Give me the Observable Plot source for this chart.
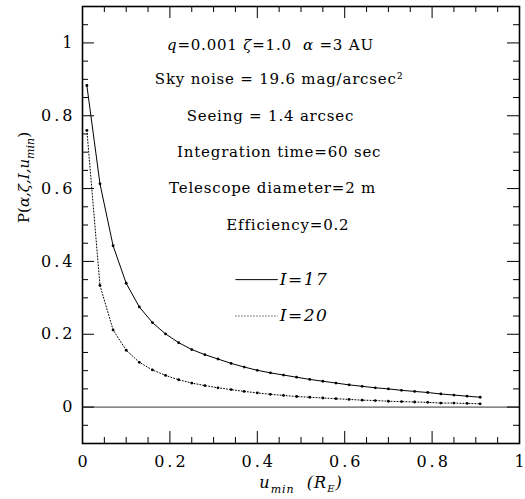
<!DOCTYPE html>
<html><head><meta charset="utf-8">
<script src="https://cdn.jsdelivr.net/npm/d3@7"></script>
<script src="https://cdn.jsdelivr.net/npm/@observablehq/plot@0.6"></script>
<style>body{margin:0;background:#fff}</style>
</head><body><div id="chart"></div>
<script>
// ---- data ----
const uMin = [0.01,0.04,0.07,0.10,0.13,0.16,0.19,0.22,0.25,0.28,0.31,0.34,0.37,0.40,0.43,0.46,0.49,0.52,0.55,0.58,0.61,0.64,0.67,0.70,0.73,0.76,0.79,0.82,0.85,0.88,0.91];
const pI17 = [0.883,0.613,0.443,0.340,0.275,0.232,0.201,0.177,0.158,0.144,0.132,0.120,0.110,0.101,0.094,0.088,0.082,0.076,0.071,0.066,0.061,0.057,0.053,0.050,0.046,0.043,0.040,0.036,0.033,0.030,0.027];
const pI20 = [0.760,0.334,0.212,0.156,0.123,0.102,0.087,0.075,0.066,0.059,0.053,0.048,0.043,0.039,0.035,0.032,0.029,0.027,0.025,0.023,0.021,0.019,0.018,0.016,0.015,0.014,0.013,0.011,0.011,0.010,0.009];
const seriesNames = ["I=17","I=20"];
const xTickValues = [0,0.2,0.4,0.6,0.8,1];
const yTickValues = [0,0.2,0.4,0.6,0.8,1];
const annotations = ["q=0.001 ζ=1.0  α=3 AU","Sky noise = 19.6 mag/arcsec²","Seeing = 1.4 arcsec","Integration time=60 sec","Telescope diameter=2 m","Efficiency=0.2"];

// ---- layout ----
const W = 525, H = 499, mL = 82, mR = 6, mT = 6, mB = 56;
const innerW = W - mL - mR, innerH = H - mT - mB;
const majorLen = 12, minorLen = 6;
const font = "DejaVu Serif";

const rows17 = uMin.map((u,i)=>({u, p:pI17[i]}));
const rows20 = uMin.map((u,i)=>({u, p:pI20[i]}));
const xMinor = d3.range(0,21).map(i=>i*0.05);
const yMinor = d3.range(0,25).map(i=>-0.1+i*0.05);
const isMajor = v => Math.abs(v/0.2 - Math.round(v/0.2)) < 1e-6;
const xMaj = xMinor.filter(isMajor), xMin = xMinor.filter(v=>!isMajor(v));
const yMaj = yMinor.filter(isMajor), yMin = yMinor.filter(v=>!isMajor(v));

const annoX = [0.43,0.45,0.43,0.45,0.435,0.47];
const annoY = [0.995,0.9,0.8,0.7,0.6,0.5];
const annoRows = annotations.map((t,i)=>({t, x:annoX[i], y:annoY[i]}));
const legendSolid = [{name: seriesNames[0], x1:0.35, x2:0.447, y:0.35}];
const legendDotted = [{name: seriesNames[1], x1:0.35, x2:0.447, y:0.25}];

const chart = Plot.plot({
  width: W, height: H,
  marginLeft: mL, marginRight: mR, marginTop: mT, marginBottom: mB,
  style: {fontFamily: font, fontSize: "15px", color: "black", background: "white"},
  x: {domain: [0,1], label: null},
  y: {domain: [-0.1,1.1], label: null},
  marks: [
    Plot.axisX(xTickValues, {tickSize: 0, tickPadding: 12, tickFormat: d => String(d), fontSize: 16, fontFamily: font}),
    Plot.axisY(yTickValues, {tickSize: 0, tickPadding: 7, tickFormat: d => String(d), fontSize: 16, fontFamily: font}),
    // inward ticks
    Plot.tickX(xMaj, {x: d=>d, insetTop: innerH - majorLen, stroke: "black", strokeWidth: 1}),
    Plot.tickX(xMin, {x: d=>d, insetTop: innerH - minorLen, stroke: "black", strokeWidth: 1}),
    Plot.tickX(xMaj, {x: d=>d, insetBottom: innerH - majorLen, stroke: "black", strokeWidth: 1}),
    Plot.tickX(xMin, {x: d=>d, insetBottom: innerH - minorLen, stroke: "black", strokeWidth: 1}),
    Plot.tickY(yMaj, {y: d=>d, insetRight: innerW - majorLen, stroke: "black", strokeWidth: 1}),
    Plot.tickY(yMin, {y: d=>d, insetRight: innerW - minorLen, stroke: "black", strokeWidth: 1}),
    Plot.tickY(yMaj, {y: d=>d, insetLeft: innerW - majorLen, stroke: "black", strokeWidth: 1}),
    Plot.tickY(yMin, {y: d=>d, insetLeft: innerW - minorLen, stroke: "black", strokeWidth: 1}),
    Plot.ruleY([0], {stroke: "black", strokeWidth: 0.8}),
    Plot.line(rows17, {x: "u", y: "p", stroke: "black", strokeWidth: 1}),
    Plot.dot(rows17, {x: "u", y: "p", r: 1.4, fill: "black", stroke: null}),
    Plot.line(rows20, {x: "u", y: "p", stroke: "black", strokeWidth: 1, strokeDasharray: "1,2"}),
    Plot.dot(rows20, {x: "u", y: "p", r: 1.4, fill: "black", stroke: null}),
    Plot.text(annoRows, {x: "x", y: "y", text: "t", textAnchor: "middle", fontSize: 15, fill: "black", fontFamily: font}),
    // legend
    Plot.link(legendSolid, {x1: "x1", x2: "x2", y1: "y", y2: "y", stroke: "black", strokeWidth: 1}),
    Plot.link(legendDotted, {x1: "x1", x2: "x2", y1: "y", y2: "y", stroke: "black", strokeWidth: 1, strokeDasharray: "1,2"}),
    Plot.text(legendSolid.concat(legendDotted), {x: "x2", y: "y", text: "name", textAnchor: "start", dx: 2, fontSize: 17, fontStyle: "italic", fill: "black", fontFamily: font}),
    // axis labels
    Plot.text(["u_min (R_E)"], {frameAnchor: "bottom", dy: 44, text: d=>d, fontSize: 16, fill: "black", fontFamily: font}),
    Plot.text(["P(α,ζ,I,u_min)"], {frameAnchor: "left", dx: -58, dy: -2, rotate: -90, text: d=>d, fontSize: 15, fill: "black", fontFamily: font}),
    Plot.frame({stroke: "black", strokeWidth: 1.6})
  ]
});
document.getElementById("chart").append(chart);

// rich text (italics / subscripts) applied to the rendered text nodes
const svg = d3.select(chart);
function findText(match) {
  return svg.selectAll("text").filter(function(){ return this.textContent === match; });
}
function rich(match, parts, spacing) {
  findText(match).each(function(){
    const t = d3.select(this);
    t.text(null);
    if (spacing != null) t.attr("letter-spacing", spacing);
    parts.forEach(p => {
      const s = t.append("tspan").text(p.t);
      if (p.i) s.attr("font-style","italic");
      if (p.sub) s.attr("font-size", p.fs || "11px").attr("dy", p.dy);
      else if (p.dy) s.attr("dy", p.dy);
    });
  });
}
// letter spacing to match the wide-set reference lettering
svg.selectAll("g[aria-label='x-axis tick label'] text").each(function(){
  if (this.textContent.length > 1) d3.select(this).attr("letter-spacing", 3).attr("dx", 1.5);
});
svg.selectAll("g[aria-label='y-axis tick label'] text").attr("letter-spacing", 3);
annotations.forEach(a => findText(a).attr("letter-spacing", 0.8));
seriesNames.forEach(a => findText(a).attr("letter-spacing", 1.5));
rich("q=0.001 ζ=1.0  α=3 AU", [
  {t:"q", i:1},{t:"=0.001 "},{t:"ζ", i:1},{t:"=1.0  "},{t:"α", i:1},{t:" =3 AU"}
], 0.8);
rich("u_min (R_E)", [
  {t:"u", i:1},{t:"min", i:1, sub:1, dy:"5"},{t:"  (R", i:1, dy:"-5"},{t:"E", i:1, sub:1, fs:"10px", dy:"4"},{t:")", i:1, dy:"-4"}
], 1);
rich("P(α,ζ,I,u_min)", [
  {t:"P("},{t:"α,ζ,I,u", i:1},{t:"min", i:1, sub:1, dy:"5"},{t:")", dy:"-5"}
]);
</script>
</body></html>
